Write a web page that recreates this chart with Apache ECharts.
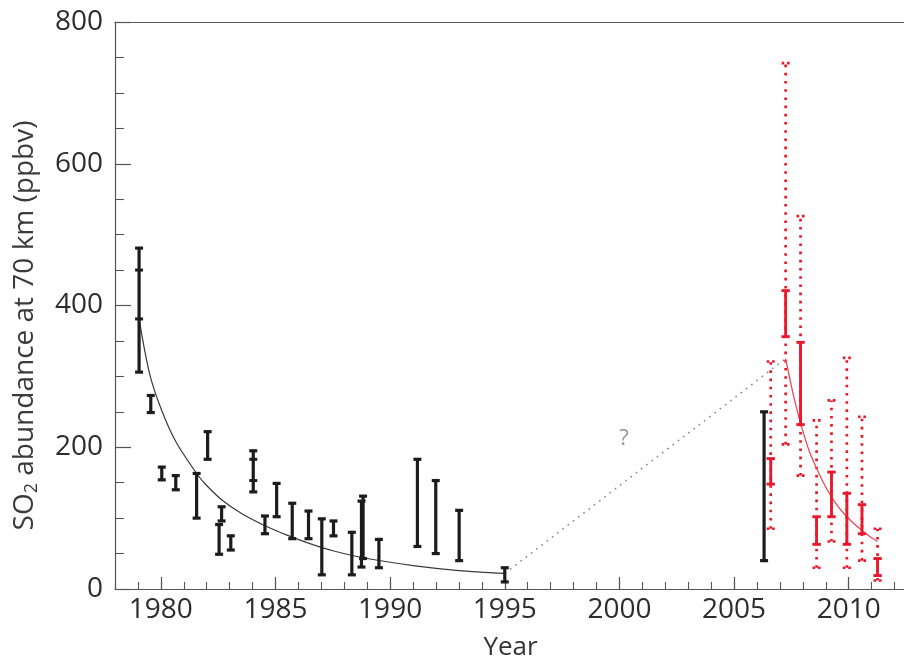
<!DOCTYPE html>
<html>
<head>
<meta charset="utf-8">
<style>
  html, body { margin: 0; padding: 0; background: #ffffff; }
  #chart { width: 904px; height: 662px; }
</style>
<script src="https://cdn.jsdelivr.net/npm/echarts@6/dist/echarts.min.js"></script>
</head>
<body>
<div id="chart"></div>
<script>
// Ground-based SO2 measurements (black): year, lower bound, upper bound (ppbv)
const blackYears = [1979.05, 1979.56, 1980.04, 1980.65, 1981.56, 1982.04, 1982.54, 1982.65, 1983.05,
  1984.03, 1984.54, 1985.05, 1985.73, 1986.44, 1987.02, 1987.53, 1988.33, 1988.75, 1988.82,
  1989.51, 1991.19, 1991.99, 1993.01, 1995.0, 2006.31];
const blackLow = [306, 249, 154, 140, 100, 183, 49, 96, 55,
  137, 78, 102, 71, 71, 20, 75, 20, 31, 43,
  30, 60, 50, 40, 10, 40];
const blackHigh = [481, 273, 172, 160, 163, 222, 91, 116, 75,
  195, 103, 149, 121, 110, 99, 96, 80, 124, 131,
  70, 183, 153, 111, 30, 250];
// Extra cross marks drawn inside two of the black bars
const blackMarkYears = [1979.05, 1979.05, 1984.03, 1984.03];
const blackMarkValues = [450, 381, 183, 153];

// Venus Express SO2 (red): full range (dotted) and core range (solid)
const redYears = [2006.6, 2007.25, 2007.9, 2008.6, 2009.25, 2009.92, 2010.58, 2011.26];
const redOuterLow = [85, 204, 160, 30, 67, 30, 40, 12];
const redOuterHigh = [321, 742, 526, 238, 266, 326, 243, 85];
const redInnerLow = [148, 356, 232, 63, 102, 63, 78, 19];
const redInnerHigh = [184, 421, 348, 102, 165, 135, 119, 43];

// Decay curves
const blackCurveYears = [1979.05, 1979.5, 1980.0, 1980.65, 1981.56, 1982.0, 1982.65, 1983.5,
  1984.5, 1985.5, 1986.5, 1987.5, 1989.0, 1991.0, 1993.0, 1995.0];
const blackCurveValues = [381, 305, 255, 208, 163, 146, 126, 107, 90, 76, 64, 54, 43, 33, 26, 22];
const redCurveYears = [2007.25, 2007.6, 2007.9, 2008.3, 2008.9, 2009.5, 2010.2, 2010.8, 2011.26];
const redCurveValues = [325, 272, 234, 193, 150, 118, 93, 77, 67];

// Gap between the two records
const gapYears = [1995.0, 2007.25];
const gapValues = [22, 325];
const questionYear = 2000.2;
const questionValue = 212;

// Axis labels
const yTicks = [0, 200, 400, 600, 800];
const xLabelYears = [1980, 1985, 1990, 1995, 2000, 2005, 2010];

const FONT = 'Open Sans';
const INK = '#1c1c1c';
const RED = '#e8192c';
const AXIS = '#555555';

function zip(a, b, c) { return a.map((v, i) => c ? [v, b[i], c[i]] : [v, b[i]]); }

// Vertical bar with horizontal caps at both ends
function barRenderer(color, width, capHalf, dash, capDash) {
  return function (params, api) {
    const x = api.value(0);
    const lo = api.coord([x, api.value(1)]);
    const hi = api.coord([x, api.value(2)]);
    const base = { stroke: color, lineWidth: width, lineDash: dash || null, lineCap: 'butt' };
    const capStyle = { stroke: color, lineWidth: width, lineDash: capDash || null, lineCap: 'butt' };
    return {
      type: 'group',
      children: [
        { type: 'line', shape: { x1: lo[0], y1: lo[1], x2: hi[0], y2: hi[1] }, style: base },
        { type: 'line', shape: { x1: hi[0] - capHalf, y1: hi[1], x2: hi[0] + capHalf, y2: hi[1] }, style: capStyle },
        { type: 'line', shape: { x1: lo[0] - capHalf, y1: lo[1], x2: lo[0] + capHalf, y2: lo[1] }, style: capStyle }
      ]
    };
  };
}

function markRenderer(color, width, capHalf) {
  return function (params, api) {
    const p = api.coord([api.value(0), api.value(1)]);
    return {
      type: 'line',
      shape: { x1: p[0] - capHalf, y1: p[1], x2: p[0] + capHalf, y2: p[1] },
      style: { stroke: color, lineWidth: width }
    };
  };
}

const chart = echarts.init(document.getElementById('chart'), null, { renderer: 'canvas' });

const labelStyle = { fontFamily: FONT, fontSize: 28, color: '#2d2d2d' };

chart.setOption({
  animation: false,
  backgroundColor: '#ffffff',
  grid: { left: 115, top: 22, right: -2, bottom: 73, containLabel: false, outerBoundsMode: 'none' },
  xAxis: [
    {
      // main bottom axis: labels and 5-year ticks
      type: 'value', min: 1978, max: 2012.5, position: 'bottom',
      name: 'Year', nameLocation: 'middle', nameGap: 46,
      nameTextStyle: { fontFamily: FONT, fontSize: 26, color: '#333333' },
      axisLine: { show: true, lineStyle: { color: AXIS, width: 1.2 } },
      axisTick: { show: true, inside: true, length: 12, customValues: xLabelYears,
        lineStyle: { color: AXIS, width: 1.2 } },
      axisLabel: Object.assign({ show: true, margin: 7, customValues: xLabelYears,
        formatter: v => String(Math.round(v)) }, labelStyle),
      splitLine: { show: false }
    },
    {
      // yearly ticks
      type: 'value', min: 1978, max: 2012.5, interval: 1, position: 'bottom',
      axisLine: { show: false },
      axisTick: { show: true, inside: true, length: 7, lineStyle: { color: AXIS, width: 1.1 } },
      axisLabel: { show: false },
      splitLine: { show: false }
    },
    {
      // top frame line
      type: 'value', min: 1978, max: 2012.5, position: 'top',
      axisLine: { show: true, lineStyle: { color: AXIS, width: 1.2 } },
      axisTick: { show: false }, axisLabel: { show: false }, splitLine: { show: false }
    }
  ],
  yAxis: {
    type: 'value', min: 0, max: 800, interval: 200,
    name: '{n|SO}{s|2}{n| abundance at 70 km (ppbv)}',
    nameLocation: 'middle', nameGap: 74, nameRotate: 90,
    nameTextStyle: {
      padding: [0, 40, 0, 0],
      rich: {
        n: { fontFamily: FONT, fontSize: 28, color: '#3a3a3a', lineHeight: 32 },
        s: { fontFamily: FONT, fontSize: 18, color: '#3a3a3a', lineHeight: 16, verticalAlign: 'bottom' }
      }
    },
    axisLine: { show: true, lineStyle: { color: AXIS, width: 1.2 } },
    axisTick: { show: true, inside: true, length: 16, lineStyle: { color: AXIS, width: 1.2 } },
    minorTick: { show: true, splitNumber: 4, length: 9, lineStyle: { color: AXIS, width: 1.1 } },
    axisLabel: Object.assign({ margin: 12,
      formatter: v => (yTicks.indexOf(v) >= 0 ? String(v) : '') }, labelStyle),
    splitLine: { show: false }
  },
  series: [
    {
      name: 'gap', type: 'line', data: zip(gapYears, gapValues), symbol: 'none',
      lineStyle: { color: '#8a8a8a', width: 1.6, type: [1.6, 5] }, z: 1
    },
    {
      name: 'question', type: 'scatter', data: zip([questionYear], [questionValue]),
      symbolSize: 0,
      label: { show: true, position: 'inside', formatter: '?', fontFamily: FONT, fontSize: 22, color: '#7a7a7a' }
    },
    {
      name: 'blackCurve', type: 'line', data: zip(blackCurveYears, blackCurveValues), symbol: 'none',
      smooth: 0.3, lineStyle: { color: '#3a3a3a', width: 1.2 }, z: 3
    },
    {
      name: 'blackBars', type: 'custom', data: zip(blackYears, blackLow, blackHigh),
      renderItem: barRenderer(INK, 3.2, 4), z: 4
    },
    {
      name: 'blackMarks', type: 'custom', data: zip(blackMarkYears, blackMarkValues),
      renderItem: markRenderer(INK, 3, 4), z: 4
    },
    {
      name: 'redOuter', type: 'custom', data: zip(redYears, redOuterLow, redOuterHigh),
      renderItem: barRenderer(RED, 2.7, 4, [2.6, 5.6], [2.6, 2.8]), z: 2
    },
    {
      name: 'redCurve', type: 'line', data: zip(redCurveYears, redCurveValues), symbol: 'none',
      smooth: 0.3, lineStyle: { color: '#ec4a58', width: 1.3 }, z: 3
    },
    {
      name: 'redInner', type: 'custom', data: zip(redYears, redInnerLow, redInnerHigh),
      renderItem: barRenderer(RED, 2.9, 4.2), z: 5
    }
  ]
});
</script>
</body>
</html>
